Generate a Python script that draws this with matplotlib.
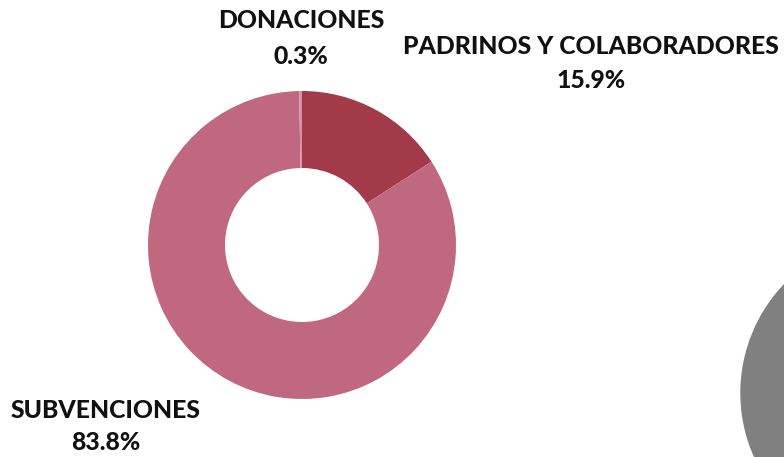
import matplotlib
matplotlib.use("Agg")
import matplotlib.pyplot as plt
from matplotlib.patches import Circle

labels = ["PADRINOS Y COLABORADORES", "SUBVENCIONES", "DONACIONES"]
values = [15.9, 83.8, 0.3]
colors = ["#A33A4A", "#C0687F", "#D890A8"]

W, H = 784, 457
fig = plt.figure(figsize=(W / 100, H / 100), dpi=100)
ax = fig.add_axes([0, 0, 1, 1])
ax.set_xlim(0, W)
ax.set_ylim(0, H)
ax.set_aspect("equal")
ax.axis("off")

cx, cy, r = 302, H - 245, 154
ax.pie(values, colors=colors, startangle=90, counterclock=False,
       center=(cx, cy), radius=r, frame=True,
       wedgeprops=dict(width=77, edgecolor="none"))
ax.set_xlim(0, W)
ax.set_ylim(0, H)
ax.axis("off")

ax.add_patch(Circle((898, H - 393), 157, color="#808080", zorder=0))

font = dict(family=["Lato", "DejaVu Sans"], fontweight="black", fontsize=17.8, color="#111111",
            ha="center", va="center")
pos = {
    "PADRINOS Y COLABORADORES": (591, 47, 81),
    "SUBVENCIONES": (106, 410, 443),
    "DONACIONES": (301, 21, 56),
}
for lab, v in zip(labels, values):
    x, y1, y2 = pos[lab]
    ax.text(x, H - y1, lab, **font)
    ax.text(x, H - y2, f"{v}%", **font)

fig.savefig("out.png", dpi=100)
